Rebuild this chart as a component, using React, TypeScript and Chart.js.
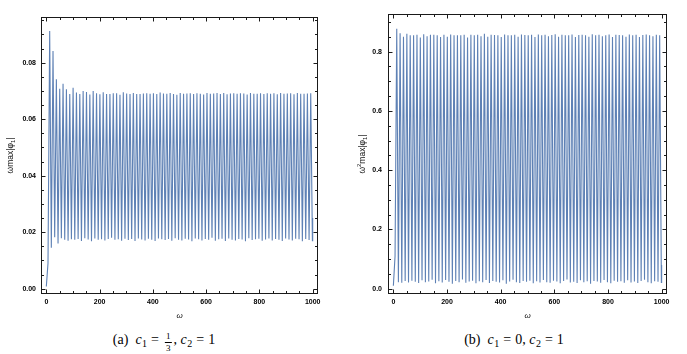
import React, { useEffect, useRef } from "react";
import { Chart, registerables } from "chart.js";
Chart.register(...registerables);

// ω positions of the local maxima and minima of the oscillation
const omegaPeaks = [
  12.6, 25.1, 37.7, 50.3, 62.8, 75.4, 88.0, 100.5, 113.1, 125.7,
  138.2, 150.8, 163.4, 175.9, 188.5, 201.1, 213.6, 226.2, 238.8, 251.3,
  263.9, 276.5, 289.0, 301.6, 314.2, 326.7, 339.3, 351.9, 364.4, 377.0,
  389.6, 402.1, 414.7, 427.3, 439.8, 452.4, 465.0, 477.5, 490.1, 502.7,
  515.2, 527.8, 540.4, 552.9, 565.5, 578.1, 590.6, 603.2, 615.8, 628.3,
  640.9, 653.5, 666.0, 678.6, 691.2, 703.7, 716.3, 728.8, 741.4, 754.0,
  766.5, 779.1, 791.7, 804.2, 816.8, 829.4, 841.9, 854.5, 867.1, 879.6,
  892.2, 904.8, 917.3, 929.9, 942.5, 955.0, 967.6, 980.2, 992.7,
];
const omegaTroughs = [
  6.3, 18.8, 31.4, 44.0, 56.5, 69.1, 81.7, 94.2, 106.8, 119.4,
  131.9, 144.5, 157.1, 169.6, 182.2, 194.8, 207.3, 219.9, 232.5, 245.0,
  257.6, 270.2, 282.7, 295.3, 307.9, 320.4, 333.0, 345.6, 358.1, 370.7,
  383.3, 395.8, 408.4, 421.0, 433.5, 446.1, 458.7, 471.2, 483.8, 496.4,
  508.9, 521.5, 534.1, 546.6, 559.2, 571.8, 584.3, 596.9, 609.5, 622.0,
  634.6, 647.2, 659.7, 672.3, 684.9, 697.4, 710.0, 722.6, 735.1, 747.7,
  760.3, 772.8, 785.4, 798.0, 810.5, 823.1, 835.7, 848.2, 860.8, 873.4,
  885.9, 898.5, 911.1, 923.6, 936.2, 948.8, 961.3, 973.9, 986.5, 999.0,
];
const omegaStart = 0;
const omegaEnd = 1000;

// Panel (a): ω max|φ1|
const startA = 0.0008;
const endA = 0.025;
const peaksA = [
  0.0912, 0.0841, 0.0741, 0.0708, 0.0725, 0.0706, 0.0689, 0.0711, 0.0694, 0.0689,
  0.0700, 0.0696, 0.0687, 0.0700, 0.0692, 0.0688, 0.0695, 0.0689, 0.0689, 0.0692,
  0.0692, 0.0686, 0.0695, 0.0691, 0.0689, 0.0693, 0.0689, 0.0689, 0.0691, 0.0692,
  0.0690, 0.0692, 0.0689, 0.0694, 0.0691, 0.0690, 0.0693, 0.0689, 0.0686, 0.0693,
  0.0690, 0.0691, 0.0692, 0.0689, 0.0692, 0.0690, 0.0687, 0.0693, 0.0690, 0.0691,
  0.0693, 0.0689, 0.0693, 0.0688, 0.0691, 0.0692, 0.0690, 0.0692, 0.0691, 0.0687,
  0.0693, 0.0690, 0.0690, 0.0692, 0.0689, 0.0692, 0.0690, 0.0692, 0.0688, 0.0693,
  0.0690, 0.0691, 0.0692, 0.0688, 0.0693, 0.0690, 0.0690, 0.0691, 0.0692,
];
const troughsA = [
  0.0090, 0.0145, 0.0182, 0.0160, 0.0179, 0.0173, 0.0170, 0.0175, 0.0173, 0.0176,
  0.0169, 0.0179, 0.0174, 0.0168, 0.0178, 0.0173, 0.0175, 0.0171, 0.0176, 0.0180,
  0.0173, 0.0175, 0.0170, 0.0177, 0.0172, 0.0176, 0.0169, 0.0178, 0.0174, 0.0171,
  0.0177, 0.0173, 0.0169, 0.0178, 0.0175, 0.0172, 0.0176, 0.0170, 0.0179, 0.0173,
  0.0171, 0.0177, 0.0174, 0.0168, 0.0178, 0.0175, 0.0171, 0.0176, 0.0173, 0.0180,
  0.0170, 0.0175, 0.0177, 0.0169, 0.0178, 0.0173, 0.0171, 0.0176, 0.0174, 0.0168,
  0.0179, 0.0172, 0.0175, 0.0177, 0.0170, 0.0174, 0.0178, 0.0171, 0.0176, 0.0173,
  0.0169, 0.0178, 0.0174, 0.0171, 0.0177, 0.0175, 0.0168, 0.0176, 0.0172, 0.0170,
];

// Panel (b): ω² max|φ1|
const startB = 0.01;
const endB = 0.08;
const peaksB = [
  0.877, 0.862, 0.850, 0.860, 0.855, 0.855, 0.857, 0.848, 0.859, 0.852,
  0.857, 0.857, 0.855, 0.849, 0.857, 0.850, 0.858, 0.855, 0.855, 0.855,
  0.857, 0.848, 0.857, 0.855, 0.857, 0.852, 0.860, 0.850, 0.857, 0.856,
  0.855, 0.849, 0.858, 0.855, 0.855, 0.857, 0.850, 0.858, 0.856, 0.855,
  0.857, 0.849, 0.858, 0.855, 0.857, 0.852, 0.856, 0.859, 0.850, 0.857,
  0.855, 0.855, 0.858, 0.849, 0.856, 0.857, 0.855, 0.850, 0.859, 0.855,
  0.857, 0.852, 0.855, 0.858, 0.849, 0.857, 0.856, 0.855, 0.850, 0.858,
  0.855, 0.857, 0.849, 0.856, 0.858, 0.855, 0.852, 0.857, 0.855,
];
const troughsB = [
  0.110, 0.022, 0.020, 0.026, 0.021, 0.027, 0.023, 0.019, 0.028, 0.022,
  0.024, 0.030, 0.018, 0.025, 0.021, 0.029, 0.023, 0.017, 0.026, 0.022,
  0.031, 0.020, 0.024, 0.027, 0.018, 0.025, 0.022, 0.029, 0.019, 0.026,
  0.023, 0.021, 0.028, 0.017, 0.024, 0.030, 0.022, 0.019, 0.026, 0.023,
  0.027, 0.018, 0.025, 0.021, 0.029, 0.022, 0.020, 0.027, 0.024, 0.018,
  0.026, 0.031, 0.021, 0.023, 0.019, 0.028, 0.022, 0.025, 0.017, 0.026,
  0.024, 0.020, 0.029, 0.022, 0.018, 0.027, 0.023, 0.025, 0.020, 0.028,
  0.021, 0.024, 0.019, 0.026, 0.030, 0.022, 0.018, 0.025, 0.023, 0.021,
];

const xTicks = [0, 200, 400, 600, 800, 1000];
const yTicksA = [0, 0.02, 0.04, 0.06, 0.08];
const yTicksB = [0, 0.2, 0.4, 0.6, 0.8];

const LINE_COLOR = "#5E81B5";
const FRAME_COLOR = "#1a1a1a";
const SANS = "'Liberation Sans', Arial, sans-serif";
const TICK_FONT = { family: SANS, size: 7, weight: "bold" as const };

function buildSeries(start: number, end: number, peaks: number[], troughs: number[]) {
  const pts: { x: number; y: number }[] = [{ x: omegaStart, y: start }];
  for (let i = 0; i < omegaTroughs.length; i++) {
    pts.push({ x: omegaTroughs[i], y: troughs[i] });
    if (i < omegaPeaks.length) pts.push({ x: omegaPeaks[i], y: peaks[i] });
  }
  pts.push({ x: omegaEnd, y: end });
  return pts;
}

type Seg = { t: string; kind?: "sub" | "sup"; italic?: boolean };

function drawSegments(ctx: CanvasRenderingContext2D, segs: Seg[], size: number, family: string) {
  const small = size * 0.7;
  const fontOf = (s: Seg) => `${s.italic ? "italic " : ""}${s.kind ? small : size}px ${family}`;
  const widths = segs.map((s) => {
    ctx.font = fontOf(s);
    return ctx.measureText(s.t).width;
  });
  const total = widths.reduce((a, b) => a + b, 0);
  let x = -total / 2;
  segs.forEach((s, i) => {
    ctx.font = fontOf(s);
    const dy = s.kind === "sub" ? size * 0.25 : s.kind === "sup" ? -size * 0.4 : 0;
    ctx.fillText(s.t, x, dy);
    x += widths[i];
  });
}

function makeFramePlugin(
  xMinorStep: number,
  yMinorStep: number,
  yMinorMax: number,
  yTitle: Seg[],
  yTitleOffset: number
) {
  return {
    id: "mmaFrame",
    afterDraw(chart: any) {
      const { ctx, chartArea: a, scales } = chart;
      const xs = scales.x;
      const ys = scales.y;
      const L = Math.round(a.left) + 0.5;
      const R = Math.round(a.right) - 0.5;
      const T = Math.round(a.top) + 0.5;
      const B = Math.round(a.bottom) - 0.5;
      ctx.save();
      ctx.strokeStyle = FRAME_COLOR;
      ctx.lineWidth = 1;
      ctx.strokeRect(L, T, R - L, B - T);
      ctx.beginPath();
      const major = 4;
      const minor = 2.5;
      for (let v = 0; v <= 1000 + 1e-9; v += xMinorStep) {
        const isMajor = xTicks.some((t) => Math.abs(t - v) < 1e-6);
        const len = isMajor ? major : minor;
        const px = Math.round(xs.getPixelForValue(v)) + 0.5;
        ctx.moveTo(px, B);
        ctx.lineTo(px, B - len);
        ctx.moveTo(px, T);
        ctx.lineTo(px, T + len);
      }
      const yMaj = ys.ticks.map((t: any) => t.value);
      for (let k = 0; k * yMinorStep <= yMinorMax + 1e-9; k++) {
        const v = k * yMinorStep;
        const isMajor = yMaj.some((t: number) => Math.abs(t - v) < 1e-9);
        const len = isMajor ? major : minor;
        const py = Math.round(ys.getPixelForValue(v)) + 0.5;
        ctx.moveTo(L, py);
        ctx.lineTo(L + len, py);
        ctx.moveTo(R, py);
        ctx.lineTo(R - len, py);
      }
      ctx.stroke();

      ctx.fillStyle = "#111";
      ctx.textBaseline = "middle";
      ctx.textAlign = "left";
      ctx.save();
      ctx.translate((a.left + a.right) / 2, a.bottom + 22);
      drawSegments(ctx, [{ t: "ω", italic: true }], 8, SANS);
      ctx.restore();
      ctx.save();
      ctx.translate(a.left - yTitleOffset, (a.top + a.bottom) / 2);
      ctx.rotate(-Math.PI / 2);
      drawSegments(ctx, yTitle, 8.5, SANS);
      ctx.restore();
      ctx.restore();
    },
  };
}

type PanelProps = {
  width: number;
  height: number;
  padding: { left: number; top: number; right: number; bottom: number };
  yAxisWidth: number;
  xAxisHeight: number;
  yMin: number;
  yMax: number;
  yTicks: number[];
  yDecimals: number;
  yPad: number;
  yMinorStep: number;
  yMinorMax: number;
  yTitle: Seg[];
  yTitleOffset: number;
  data: { x: number; y: number }[];
};

function Panel(p: PanelProps) {
  const ref = useRef<HTMLCanvasElement | null>(null);
  useEffect(() => {
    if (!ref.current) return;
    const chart = new Chart(ref.current, {
      type: "line",
      data: {
        datasets: [
          {
            data: p.data,
            borderColor: LINE_COLOR,
            borderWidth: 1.1,
            pointRadius: 0,
            fill: false,
            tension: 0,
          },
        ],
      },
      options: {
        animation: false,
        responsive: false,
        maintainAspectRatio: false,
        layout: { padding: p.padding },
        plugins: { legend: { display: false }, tooltip: { enabled: false } },
        scales: {
          x: {
            type: "linear",
            min: -20,
            max: 1020,
            grid: { display: false, drawTicks: false },
            border: { display: false },
            ticks: {
              font: TICK_FONT,
              color: "#000",
              padding: 4,
              maxRotation: 0,
              autoSkip: false,
              callback: (v: any) => String(v),
            },
            afterBuildTicks: (s: any) => {
              s.ticks = xTicks.map((v) => ({ value: v }));
            },
            afterFit: (s: any) => {
              s.height = p.xAxisHeight;
            },
          },
          y: {
            type: "linear",
            min: p.yMin,
            max: p.yMax,
            grid: { display: false, drawTicks: false },
            border: { display: false },
            ticks: {
              font: TICK_FONT,
              color: "#000",
              padding: p.yPad,
              autoSkip: false,
              callback: (v: any) => Number(v).toFixed(p.yDecimals),
            },
            afterBuildTicks: (s: any) => {
              s.ticks = p.yTicks.map((v) => ({ value: v }));
            },
            afterFit: (s: any) => {
              s.width = p.yAxisWidth;
            },
          },
        },
      },
      plugins: [makeFramePlugin(50, p.yMinorStep, p.yMinorMax, p.yTitle, p.yTitleOffset)],
    } as any);
    return () => chart.destroy();
  }, []);
  return <canvas ref={ref} width={p.width} height={p.height} style={{ display: "block" }} />;
}

const serif = "'Liberation Serif', 'Times New Roman', serif";

function Frac({ n, d }: { n: string; d: string }) {
  return (
    <span
      style={{
        display: "inline-flex",
        flexDirection: "column",
        alignItems: "center",
        verticalAlign: "5px",
        fontSize: "9px",
        lineHeight: "9px",
        margin: "0 2px",
      }}
    >
      <span style={{ borderBottom: "0.8px solid #000", padding: "0 1px 1px" }}>{n}</span>
      <span style={{ paddingTop: "1px" }}>{d}</span>
    </span>
  );
}

function Sub({ c }: { c: string }) {
  return (
    <span style={{ fontSize: "10px", position: "relative", top: "3px", marginLeft: "0.5px" }}>{c}</span>
  );
}

const Eq = () => <span style={{ margin: "0 4px" }}>=</span>;

export default function App() {
  const dataA = buildSeries(startA, endA, peaksA, troughsA);
  const dataB = buildSeries(startB, endB, peaksB, troughsB);
  const capStyle: React.CSSProperties = {
    position: "absolute",
    top: 332,
    fontFamily: serif,
    fontSize: "14px",
    lineHeight: "16px",
    color: "#000",
    whiteSpace: "nowrap",
    transform: "translateX(-50%)",
  };
  return (
    <div style={{ position: "fixed", left: 0, top: 0, width: 687, height: 354, background: "#fff" }}>
      <div style={{ position: "absolute", left: 0, top: 0 }}>
        <Panel
          width={340}
          height={330}
          padding={{ left: 0, top: 17, right: 22, bottom: 0 }}
          yAxisWidth={41}
          xAxisHeight={36}
          yMin={-0.00187}
          yMax={0.09616}
          yTicks={yTicksA}
          yDecimals={2}
          yPad={5}
          yMinorStep={0.005}
          yMinorMax={0.095}
          yTitle={[{ t: "ωmax|φ" }, { t: "1", kind: "sub" }, { t: "|" }]}
          yTitleOffset={30}
          data={dataA}
        />
      </div>
      <div style={{ position: "absolute", left: 340, top: 0 }}>
        <Panel
          width={347}
          height={330}
          padding={{ left: 0, top: 14, right: 20, bottom: 0 }}
          yAxisWidth={48}
          xAxisHeight={36}
          yMin={-0.018}
          yMax={0.927}
          yTicks={yTicksB}
          yDecimals={1}
          yPad={6}
          yMinorStep={0.05}
          yMinorMax={0.9}
          yTitle={[{ t: "ω" }, { t: "2", kind: "sup" }, { t: "max|φ" }, { t: "1", kind: "sub" }, { t: "|" }]}
          yTitleOffset={25}
          data={dataB}
        />
      </div>
      <div style={{ ...capStyle, left: 164 }}>
        (a)&nbsp;&nbsp;<i>c</i>
        <Sub c="1" />
        <Eq />
        <Frac n="1" d="3" />, <i>c</i>
        <Sub c="2" />
        <Eq />1
      </div>
      <div style={{ ...capStyle, left: 514 }}>
        (b)&nbsp;&nbsp;<i>c</i>
        <Sub c="1" />
        <Eq />0, <i>c</i>
        <Sub c="2" />
        <Eq />1
      </div>
    </div>
  );
}
